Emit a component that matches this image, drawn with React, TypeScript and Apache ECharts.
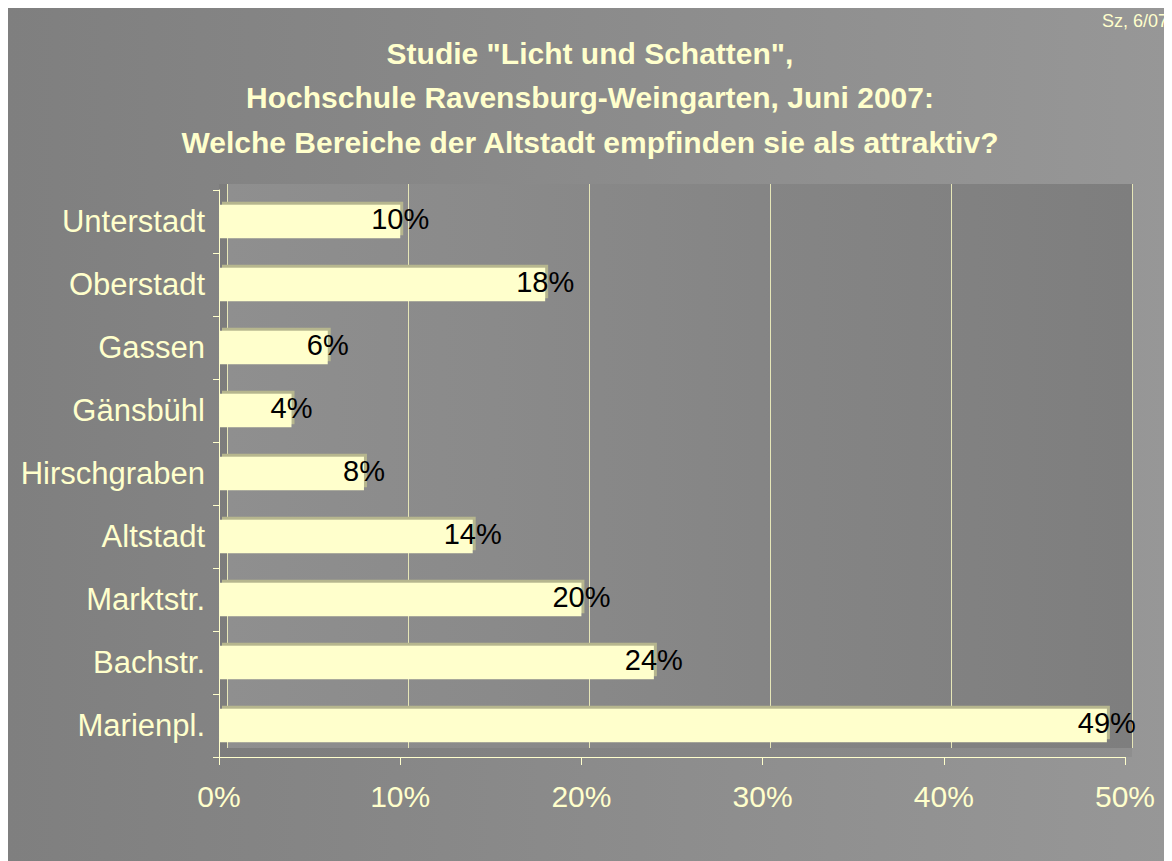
import React, { useEffect, useRef } from "react";
import * as echarts from "echarts";

const categories = ["Unterstadt", "Oberstadt", "Gassen", "Gänsbühl", "Hirschgraben", "Altstadt", "Marktstr.", "Bachstr.", "Marienpl."];
const values = [10, 18, 6, 4, 8, 14, 20, 24, 49];
const titleLines = [
  'Studie "Licht und Schatten",',
  "Hochschule Ravensburg-Weingarten, Juni 2007:",
  "Welche Bereiche der Altstadt empfinden sie als attraktiv?",
];
const noteText = "Sz, 6/07";

const FONT = "'Liberation Sans', Arial, sans-serif";
const PALE = "#ffffcc";

export default function App() {
  const ref = useRef<HTMLDivElement>(null);
  useEffect(() => {
    if (!ref.current) return;
    const chart = echarts.init(ref.current, undefined, { renderer: "svg" });
    chart.setOption({
      animation: false,
      backgroundColor: new echarts.graphic.LinearGradient(0, 0, 1, 0, [
        { offset: 0, color: "#7f7f7f" },
        { offset: 1, color: "#979797" },
      ]),
      title: {
        text: titleLines.join("\n"),
        left: "center",
        top: 18,
        textStyle: {
          fontFamily: FONT,
          fontWeight: "bold",
          fontSize: 30,
          lineHeight: 44.5,
          color: PALE,
        },
      },
      graphic: [
        {
          type: "text",
          right: 4,
          top: 4,
          style: { text: noteText, fontFamily: FONT, fontSize: 18, fill: PALE },
        },
      ],
      grid: [
        { left: 211, right: 47, top: 182, bottom: 104 },
        {
          left: 219,
          right: 40,
          top: 176,
          bottom: 113,
          show: true,
          borderWidth: 0,
          backgroundColor: new echarts.graphic.LinearGradient(0, 0, 1, 0, [
            { offset: 0, color: "#8f8f8f" },
            { offset: 1, color: "#7e7e7e" },
          ]),
          z: 0,
        },
        {
          left: 211,
          right: 40,
          top: 176,
          bottom: 104,
          show: true,
          borderWidth: 0,
          backgroundColor: "rgba(0,0,0,0.05)",
          z: -1,
        },
      ],
      xAxis: [
        {
          gridIndex: 0,
          type: "value",
          min: 0,
          max: 50,
          interval: 10,
          axisLine: { show: true, lineStyle: { color: PALE, width: 1 } },
          axisTick: { show: true, length: 8, lineStyle: { color: PALE } },
          splitLine: { show: false },
          axisLabel: {
            formatter: "{value}%",
            color: PALE,
            fontFamily: FONT,
            fontSize: 30,
            margin: 24,
          },
        },
        {
          gridIndex: 1,
          type: "value",
          min: 0,
          max: 50,
          interval: 10,
          axisLine: { show: false },
          axisTick: { show: false },
          axisLabel: { show: false },
          splitLine: { show: true, lineStyle: { color: "#e6e6b8", width: 1 } },
        },
        {
          gridIndex: 2,
          type: "value",
          show: false,
          min: 0,
          max: 50,
        },
      ],
      yAxis: [
        {
          gridIndex: 0,
          type: "category",
          data: categories,
          inverse: true,
          axisLine: { show: true, lineStyle: { color: PALE, width: 1 } },
          axisTick: { show: true, length: 6, lineStyle: { color: PALE } },
          axisLabel: {
            color: PALE,
            fontFamily: FONT,
            fontSize: 31,
            margin: 14,
          },
        },
        {
          gridIndex: 1,
          type: "category",
          data: categories,
          inverse: true,
          show: false,
        },
        {
          gridIndex: 2,
          type: "category",
          data: categories,
          show: false,
        },
      ],
      series: [
        {
          type: "bar",
          xAxisIndex: 0,
          yAxisIndex: 0,
          data: values,
          barWidth: "53%",
          z: 5,
          itemStyle: {
            color: PALE,
            shadowColor: "#b6b68e",
            shadowOffsetX: 3,
            shadowOffsetY: -3,
            shadowBlur: 0,
          },
          label: {
            show: true,
            position: ["100%", "50%"],
            align: "center",
            verticalAlign: "middle",
            offset: [0, -3],
            formatter: "{c}%",
            color: "#000",
            fontFamily: FONT,
            fontSize: 29,
          },
        },
      ],
    });
    return () => chart.dispose();
  }, []);
  return <div ref={ref} style={{ width: 1164, height: 853 }} />;
}
